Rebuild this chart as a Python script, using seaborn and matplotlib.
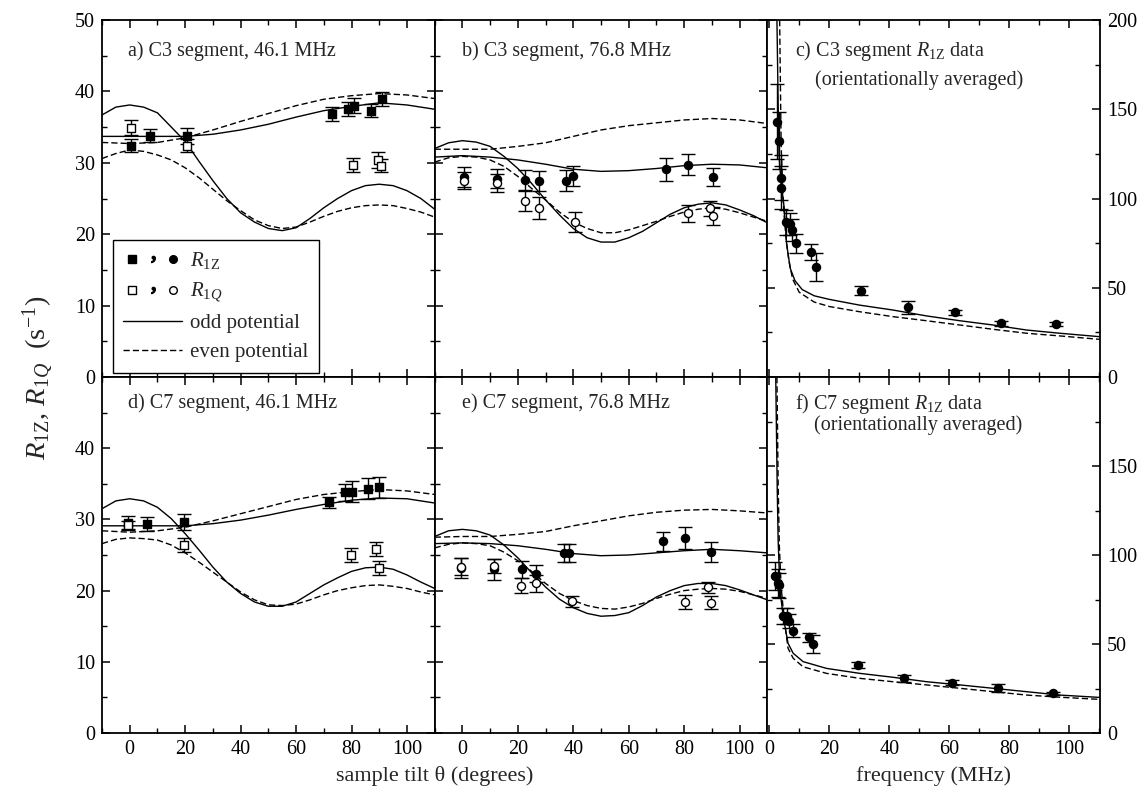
import numpy as np
import pandas as pd
import matplotlib
matplotlib.use("Agg")
import matplotlib.pyplot as plt
import seaborn as sns
from matplotlib.lines import Line2D
from matplotlib.legend_handler import HandlerTuple
from matplotlib.ticker import MultipleLocator

# ---------------- data ----------------
TH5 = [-10, -5, 0, 5, 10, 15, 20, 25, 30, 35, 40, 45, 50, 55, 60, 65, 70, 75, 80, 85, 90, 95, 100, 105, 110]
TH10 = [-10, 0, 10, 20, 30, 40, 50, 60, 70, 80, 90, 100, 110]

# panel a: C3, 46.1 MHz
a_q_odd = [36.7, 37.8, 38.1, 37.8, 37.0, 35.0, 33.0, 30.2, 27.5, 25.0, 23.0, 21.7, 20.8, 20.5, 20.9, 22.2, 23.7, 25.0, 26.1, 26.8, 27.0, 26.8, 26.1, 25.0, 23.5]
a_q_even = [30.6, 31.3, 31.8, 31.6, 31.1, 30.4, 29.3, 27.9, 26.3, 24.7, 23.3, 22.0, 21.2, 20.8, 21.0, 21.7, 22.5, 23.2, 23.7, 24.0, 24.1, 24.0, 23.6, 23.1, 22.4]
a_z_odd = [33.7, 33.7, 33.7, 33.7, 34.0, 34.6, 35.4, 36.4, 37.3, 37.9, 38.4, 38.1, 37.5]
a_z_even = [32.85, 32.7, 32.85, 33.5, 34.6, 35.8, 36.9, 38.0, 38.9, 39.4, 39.7, 39.5, 39.0]
a_zt = [0.6, 7.2, 20.6, 72.8, 78.8, 80.8, 86.9, 90.9]
a_z = [32.4, 33.8, 33.8, 36.8, 37.5, 38.0, 37.3, 38.9]
a_ze = [0.95, 0.95, 1.1, 1.0, 0.95, 1.05, 0.95, 0.95]
a_qt = [0.6, 20.6, 80.5, 89.5, 90.7]
a_q = [34.9, 32.4, 29.7, 30.4, 29.6]
a_qe = [1.05, 0.95, 1.0, 1.1, 0.95]

# panel b: C3, 76.8 MHz
b_q_odd = [32.0, 32.8, 33.1, 32.9, 32.3, 30.9, 29.2, 27.1, 24.8, 22.7, 20.8, 19.5, 18.9, 18.9, 19.5, 20.4, 21.6, 22.8, 23.7, 24.2, 24.4, 24.1, 23.4, 22.6, 21.6]
b_q_even = [30.1, 30.7, 30.9, 30.8, 30.4, 29.5, 28.1, 26.4, 24.8, 23.1, 21.7, 20.8, 20.2, 20.2, 20.6, 21.2, 21.8, 22.5, 23.1, 23.5, 23.7, 23.5, 23.0, 22.4, 21.8]
b_z_odd = [30.8, 31.0, 30.8, 30.4, 29.8, 29.1, 28.8, 28.9, 29.2, 29.6, 29.8, 29.7, 29.3]
b_z_even = [31.9, 31.9, 31.9, 32.3, 32.8, 33.7, 34.6, 35.2, 35.6, 36.0, 36.2, 36.0, 35.5]
b_zt = [0.5, 12.5, 22.7, 27.5, 37.5, 39.8, 73.6, 81.4, 90.5]
b_z = [28.0, 27.8, 27.6, 27.5, 27.5, 28.2, 29.1, 29.75, 28.0]
b_ze = [1.4, 1.3, 1.4, 1.4, 1.5, 1.4, 1.6, 1.45, 1.3]
b_qt = [0.5, 12.5, 22.7, 27.5, 40.5, 81.4, 89.3, 90.5]
b_q = [27.5, 27.2, 24.65, 23.65, 21.65, 22.95, 23.6, 22.55]
b_qe = [1.2, 1.3, 1.4, 1.5, 1.4, 1.2, 1.1, 1.2]

# panel d: C7, 46.1 MHz
d_q_odd = [31.5, 32.6, 32.9, 32.6, 31.7, 30.1, 28.0, 25.7, 23.3, 21.2, 19.6, 18.4, 17.8, 17.8, 18.4, 19.6, 20.8, 21.8, 22.7, 23.2, 23.3, 23.0, 22.2, 21.2, 20.3]
d_q_even = [26.6, 27.2, 27.4, 27.3, 27.1, 26.4, 25.3, 24.0, 22.6, 21.2, 19.8, 18.7, 18.0, 17.9, 18.1, 18.7, 19.4, 20.0, 20.4, 20.7, 20.8, 20.6, 20.3, 19.8, 19.4]
d_z_odd = [29.1, 29.1, 29.1, 29.1, 29.4, 29.9, 30.6, 31.4, 32.1, 32.7, 33.0, 32.9, 32.3]
d_z_even = [28.4, 28.2, 28.4, 28.9, 29.8, 30.8, 31.8, 32.8, 33.5, 33.9, 34.2, 34.0, 33.5]
d_zt = [-0.5, 6.2, 19.5, 71.8, 77.8, 80.0, 85.8, 89.8]
d_z = [29.5, 29.35, 29.6, 32.4, 33.8, 33.9, 34.3, 34.5]
d_ze = [1.0, 1.0, 1.1, 0.8, 1.2, 1.5, 1.5, 1.5]
d_qt = [-0.5, 19.5, 79.7, 88.9, 89.8]
d_q = [29.2, 26.4, 25.0, 25.8, 23.2]
d_qe = [0.6, 1.0, 1.0, 1.0, 1.0]

# panel e: C7, 76.8 MHz
e_q_odd = [27.6, 28.4, 28.6, 28.4, 27.8, 26.4, 24.6, 22.5, 20.5, 18.8, 17.6, 16.8, 16.4, 16.5, 16.9, 17.9, 19.1, 20.0, 20.7, 21.0, 21.0, 20.7, 20.1, 19.4, 18.7]
e_q_even = [26.0, 26.5, 26.7, 26.6, 26.3, 25.4, 24.2, 22.7, 21.0, 19.6, 18.6, 17.9, 17.5, 17.4, 17.7, 18.2, 18.9, 19.5, 20.0, 20.2, 20.3, 20.2, 19.9, 19.4, 18.9]
e_z_odd = [26.6, 26.7, 26.6, 26.3, 25.8, 25.2, 24.9, 25.0, 25.3, 25.6, 25.8, 25.6, 25.3]
e_z_even = [27.5, 27.6, 27.6, 27.9, 28.3, 29.1, 29.8, 30.5, 31.0, 31.3, 31.4, 31.2, 30.9]
e_zt = [-0.5, 11.4, 21.4, 26.6, 36.8, 38.6, 72.4, 80.4, 89.6]
e_z = [23.2, 23.0, 23.0, 22.4, 25.3, 25.3, 26.9, 27.4, 25.4]
e_ze = [1.4, 1.5, 1.2, 1.2, 1.3, 1.3, 1.4, 1.6, 1.4]
e_qt = [-0.5, 11.4, 21.3, 26.5, 39.5, 80.4, 88.5, 89.6]
e_q = [23.35, 23.5, 20.7, 21.0, 18.5, 18.45, 20.45, 18.3]
e_qe = [1.2, 1.0, 1.1, 1.2, 0.8, 1.0, 0.8, 0.9]

# panel c: C3 orientationally averaged R1Z vs frequency
c_odd_f = [2.6, 3.0, 3.3, 3.9, 5.0, 5.8, 7.0, 8.6, 11.0, 15.0, 20.0, 30.0, 41.3, 52.5, 63.6, 74.7, 85.8, 96.9, 110.0]
c_odd = [200, 153, 125, 110, 95, 75, 61, 54, 49, 45.5, 43.5, 40.3, 37.5, 34.2, 31.5, 29.1, 26.3, 24.5, 22.6]
c_even_f = [3.5, 4.0, 4.5, 5.0, 5.8, 6.5, 7.8, 10.0, 15.0, 20.0, 30.0, 41.3, 52.5, 63.6, 74.7, 85.8, 96.9, 110.0]
c_even = [200, 130, 105, 90, 75, 66, 55, 47.5, 42, 39.5, 36.6, 33.8, 31.5, 29.1, 26.7, 24.5, 23.0, 21.1]
c_f = [2.7, 3.2, 3.8, 4.1, 5.5, 7.1, 7.7, 9.1, 13.8, 15.5, 30.6, 46.1, 61.9, 77.1, 95.5]
c_r = [143.0, 132.4, 111.7, 106.0, 86.7, 85.7, 82.4, 74.9, 69.8, 61.5, 48.4, 39.0, 36.2, 30.1, 29.7]
c_err = [21, 16, 12.7, 12, 7, 6, 6, 5.3, 4.5, 7.7, 2.5, 3.8, 1.5, 1.5, 1.2]

# panel f: C7 orientationally averaged R1Z vs frequency
f_odd_f = [2.2, 2.7, 3.0, 3.6, 4.7, 6.3, 8.0, 11.3, 19.1, 30.2, 41.3, 52.5, 63.6, 74.7, 85.8, 96.9, 110.0]
f_odd = [200, 136.5, 108.4, 80.3, 65.3, 50.4, 44.8, 40.1, 36.3, 33.5, 31.3, 28.8, 27.0, 25.1, 23.2, 21.3, 20.0]
f_even_f = [2.6, 3.0, 3.4, 4.0, 5.0, 6.3, 8.0, 11.3, 19.1, 30.2, 41.3, 52.5, 63.6, 74.7, 85.8, 96.9, 110.0]
f_even = [200, 140, 105, 82, 64, 47.6, 42.0, 37.2, 33.5, 30.7, 28.8, 27.0, 25.1, 23.2, 21.3, 20.1, 18.9]
f_f = [2.1, 2.8, 3.2, 4.5, 5.8, 6.6, 8.0, 13.4, 14.5, 29.7, 45.0, 60.8, 76.3, 94.7]
f_r = [88.2, 84.4, 83.1, 65.7, 65.7, 63.1, 57.5, 53.7, 50.0, 38.2, 30.7, 28.3, 25.4, 22.3]
f_err = [8, 8, 7, 4.5, 4.5, 4, 3.5, 2.5, 5, 1.8, 1.8, 1.2, 2.3, 1.0]

titles_tilt = {"a": "a) C3 segment, 46.1 MHz", "b": "b) C3 segment, 76.8 MHz",
               "d": "d) C7 segment, 46.1 MHz", "e": "e) C7 segment, 76.8 MHz"}

# ---------------- style ----------------
sns.set_theme(style="ticks")
plt.rcParams["font.family"] = ["Liberation Serif", "DejaVu Serif"]
plt.rcParams["mathtext.fontset"] = "custom"
plt.rcParams["mathtext.rm"] = "Liberation Serif"
plt.rcParams["mathtext.it"] = "Liberation Serif:italic"
plt.rcParams["axes.linewidth"] = 1.2
plt.rcParams["axes.edgecolor"] = "black"

W, H = 1141, 802
fig = plt.figure(figsize=(W / 100, H / 100), dpi=100)

x0, x3 = 102, 1100
pw = (x3 - x0) / 3
ytop, ymid, ybot = 20, 377, 733

def make_ax(col, row):
    left = x0 + col * pw
    if row == 0:
        b, h = ymid, ymid - ytop
    else:
        b, h = ybot, ybot - ymid
    return fig.add_axes([left / W, 1 - b / H, pw / W, h / H])

DASH = (0, (4.5, 2.2))
LW = 1.0

def style_ax(ax, kind):
    ax.tick_params(which="both", direction="in", top=True, right=True, left=True, bottom=True,
                   labelsize=14.5, colors="black", pad=5)
    ax.tick_params(which="major", length=6, width=1.1)
    ax.tick_params(which="minor", length=3.5, width=1.0)
    for s in ax.spines.values():
        s.set_linewidth(1.3)
        s.set_color("black")
    ax.set_facecolor("white")
    ax.set_xlabel("")
    ax.set_ylabel("")
    if kind == "tilt":
        ax.set_xlim(-10, 110)
        ax.set_ylim(0, 50)
        ax.xaxis.set_major_locator(MultipleLocator(20))
        ax.xaxis.set_minor_locator(MultipleLocator(10))
        ax.yaxis.set_major_locator(MultipleLocator(10))
        ax.yaxis.set_minor_locator(MultipleLocator(5))
    else:
        ax.set_xlim(-0.6, 110.2)
        ax.set_ylim(0, 200)
        ax.xaxis.set_major_locator(MultipleLocator(20))
        ax.xaxis.set_minor_locator(MultipleLocator(10))
        ax.yaxis.set_major_locator(MultipleLocator(50))
        ax.yaxis.set_minor_locator(MultipleLocator(25))

def curve(ax, x, y, dashed=False):
    kw = dict(color="black", lw=LW, estimator=None, sort=False, ax=ax, legend=False)
    if dashed:
        kw["linestyle"] = DASH
    sns.lineplot(x=x, y=y, **kw)

def points(ax, x, y, err, marker, filled, size):
    ax.errorbar(x, y, yerr=err, fmt="none", ecolor="black", elinewidth=1.0,
                capsize=5, capthick=1.0, zorder=3)
    sns.scatterplot(x=x, y=y, ax=ax, marker=marker, s=size,
                    color="black" if filled else "white", edgecolor="black",
                    linewidth=1.0, zorder=4, legend=False)

def tilt_panel(ax, key, q_odd, q_even, z_odd, z_even, zt, z, ze, qt, q, qe, marker):
    curve(ax, TH5, q_odd)
    curve(ax, TH5, q_even, dashed=True)
    curve(ax, TH10, z_odd)
    curve(ax, TH10, z_even, dashed=True)
    size = 30 if marker == "s" else 34
    points(ax, zt, z, ze, marker, True, size)
    points(ax, qt, q, qe, marker, False, size)
    style_ax(ax, "tilt")
    ax.text(0.078 if key in "ad" else 0.082, 0.912 if key in "ab" else 0.927,
            titles_tilt[key], transform=ax.transAxes, fontsize=14.5, va="center", ha="left")

def freq_panel(ax, odd_f, odd, even_f, even, f, r, err):
    curve(ax, odd_f, odd)
    curve(ax, even_f, even, dashed=True)
    points(ax, f, r, err, "o", True, 34)
    style_ax(ax, "freq")

ax_a = make_ax(0, 0); ax_b = make_ax(1, 0); ax_c = make_ax(2, 0)
ax_d = make_ax(0, 1); ax_e = make_ax(1, 1); ax_f = make_ax(2, 1)

tilt_panel(ax_a, "a", a_q_odd, a_q_even, a_z_odd, a_z_even, a_zt, a_z, a_ze, a_qt, a_q, a_qe, "s")
tilt_panel(ax_b, "b", b_q_odd, b_q_even, b_z_odd, b_z_even, b_zt, b_z, b_ze, b_qt, b_q, b_qe, "o")
tilt_panel(ax_d, "d", d_q_odd, d_q_even, d_z_odd, d_z_even, d_zt, d_z, d_ze, d_qt, d_q, d_qe, "s")
tilt_panel(ax_e, "e", e_q_odd, e_q_even, e_z_odd, e_z_even, e_zt, e_z, e_ze, e_qt, e_q, e_qe, "o")
freq_panel(ax_c, c_odd_f, c_odd, c_even_f, c_even, c_f, c_r, c_err)
freq_panel(ax_f, f_odd_f, f_odd, f_even_f, f_even, f_f, f_r, f_err)

# tick labels
for ax in (ax_a, ax_b, ax_c):
    ax.tick_params(labelbottom=False)
for ax in (ax_b, ax_e):
    ax.tick_params(labelleft=False)
for ax in (ax_c, ax_f):
    ax.tick_params(labelleft=False, labelright=True)
ax_d.set_yticks([0, 10, 20, 30, 40, 50])
ax_d.set_yticklabels(["0", "10", "20", "30", "40", ""])
ax_f.set_yticks([0, 50, 100, 150, 200])
ax_f.set_yticklabels(["0", "50", "100", "150", ""])
for ax in (ax_d, ax_e, ax_f):
    ax.set_xticks([0, 20, 40, 60, 80, 100])
    ax.set_xticklabels(["0", "20", "40", "60", "80", "100"])

# freq panel titles
ax_c.text(0.083, 0.912, r"c) C3 segment $R_{\mathrm{1Z}}$ data", transform=ax_c.transAxes,
          fontsize=14.5, va="center", ha="left")
ax_c.text(0.143, 0.832, "(orientationally averaged)", transform=ax_c.transAxes,
          fontsize=14.5, va="center", ha="left")
ax_f.text(0.083, 0.925, r"f) C7 segment $R_{\mathrm{1Z}}$ data", transform=ax_f.transAxes,
          fontsize=14.5, va="center", ha="left")
ax_f.text(0.14, 0.865, "(orientationally averaged)", transform=ax_f.transAxes,
          fontsize=14.5, va="center", ha="left")

# legend in panel a
sq_f = Line2D([], [], marker="s", color="black", ls="none", ms=5.5)
sq_o = Line2D([], [], marker="s", mfc="white", mec="black", ls="none", ms=5.5, mew=1.0)
ci_f = Line2D([], [], marker="o", color="black", ls="none", ms=5.5)
ci_o = Line2D([], [], marker="o", mfc="white", mec="black", ls="none", ms=5.5, mew=1.0)
cm1 = Line2D([], [], marker="$,$", color="black", ls="none", ms=4.5)
cm2 = Line2D([], [], marker="$,$", color="black", ls="none", ms=4.5)
odd_h = Line2D([], [], color="black", lw=LW)
even_h = Line2D([], [], color="black", lw=LW, ls=DASH)
leg = ax_a.legend(handles=[(sq_f, cm1, ci_f), (sq_o, cm2, ci_o), odd_h, even_h],
                  labels=[r"$R_{\mathrm{1Z}}$", r"$R_{1Q}$", "odd potential", "even potential"],
                  handler_map={tuple: HandlerTuple(ndivide=None, pad=0.2)},
                  loc="lower left", bbox_to_anchor=(0.033, 0.012), frameon=True,
                  fancybox=False, edgecolor="black", framealpha=1, fontsize=15,
                  handlelength=2.8, handletextpad=0.4, borderpad=0.5, labelspacing=0.45,
                  borderaxespad=0)
leg.get_frame().set_linewidth(1.0)

# axis labels
fig.text(38 / W, 1 - 378 / H, r"$R_{\mathrm{1Z}}$, $R_{1Q}$  (s$^{-1}$)", rotation=90,
         fontsize=20.5, ha="center", va="center")
fig.text((x0 + pw) / W, 1 - 776 / H, "sample tilt \u03b8 (degrees)", fontsize=16,
         ha="center", va="center")
fig.text((x0 + 2.5 * pw) / W, 1 - 776 / H, "frequency (MHz)", fontsize=16,
         ha="center", va="center")

fig.savefig("out.png", dpi=100, facecolor="white")
